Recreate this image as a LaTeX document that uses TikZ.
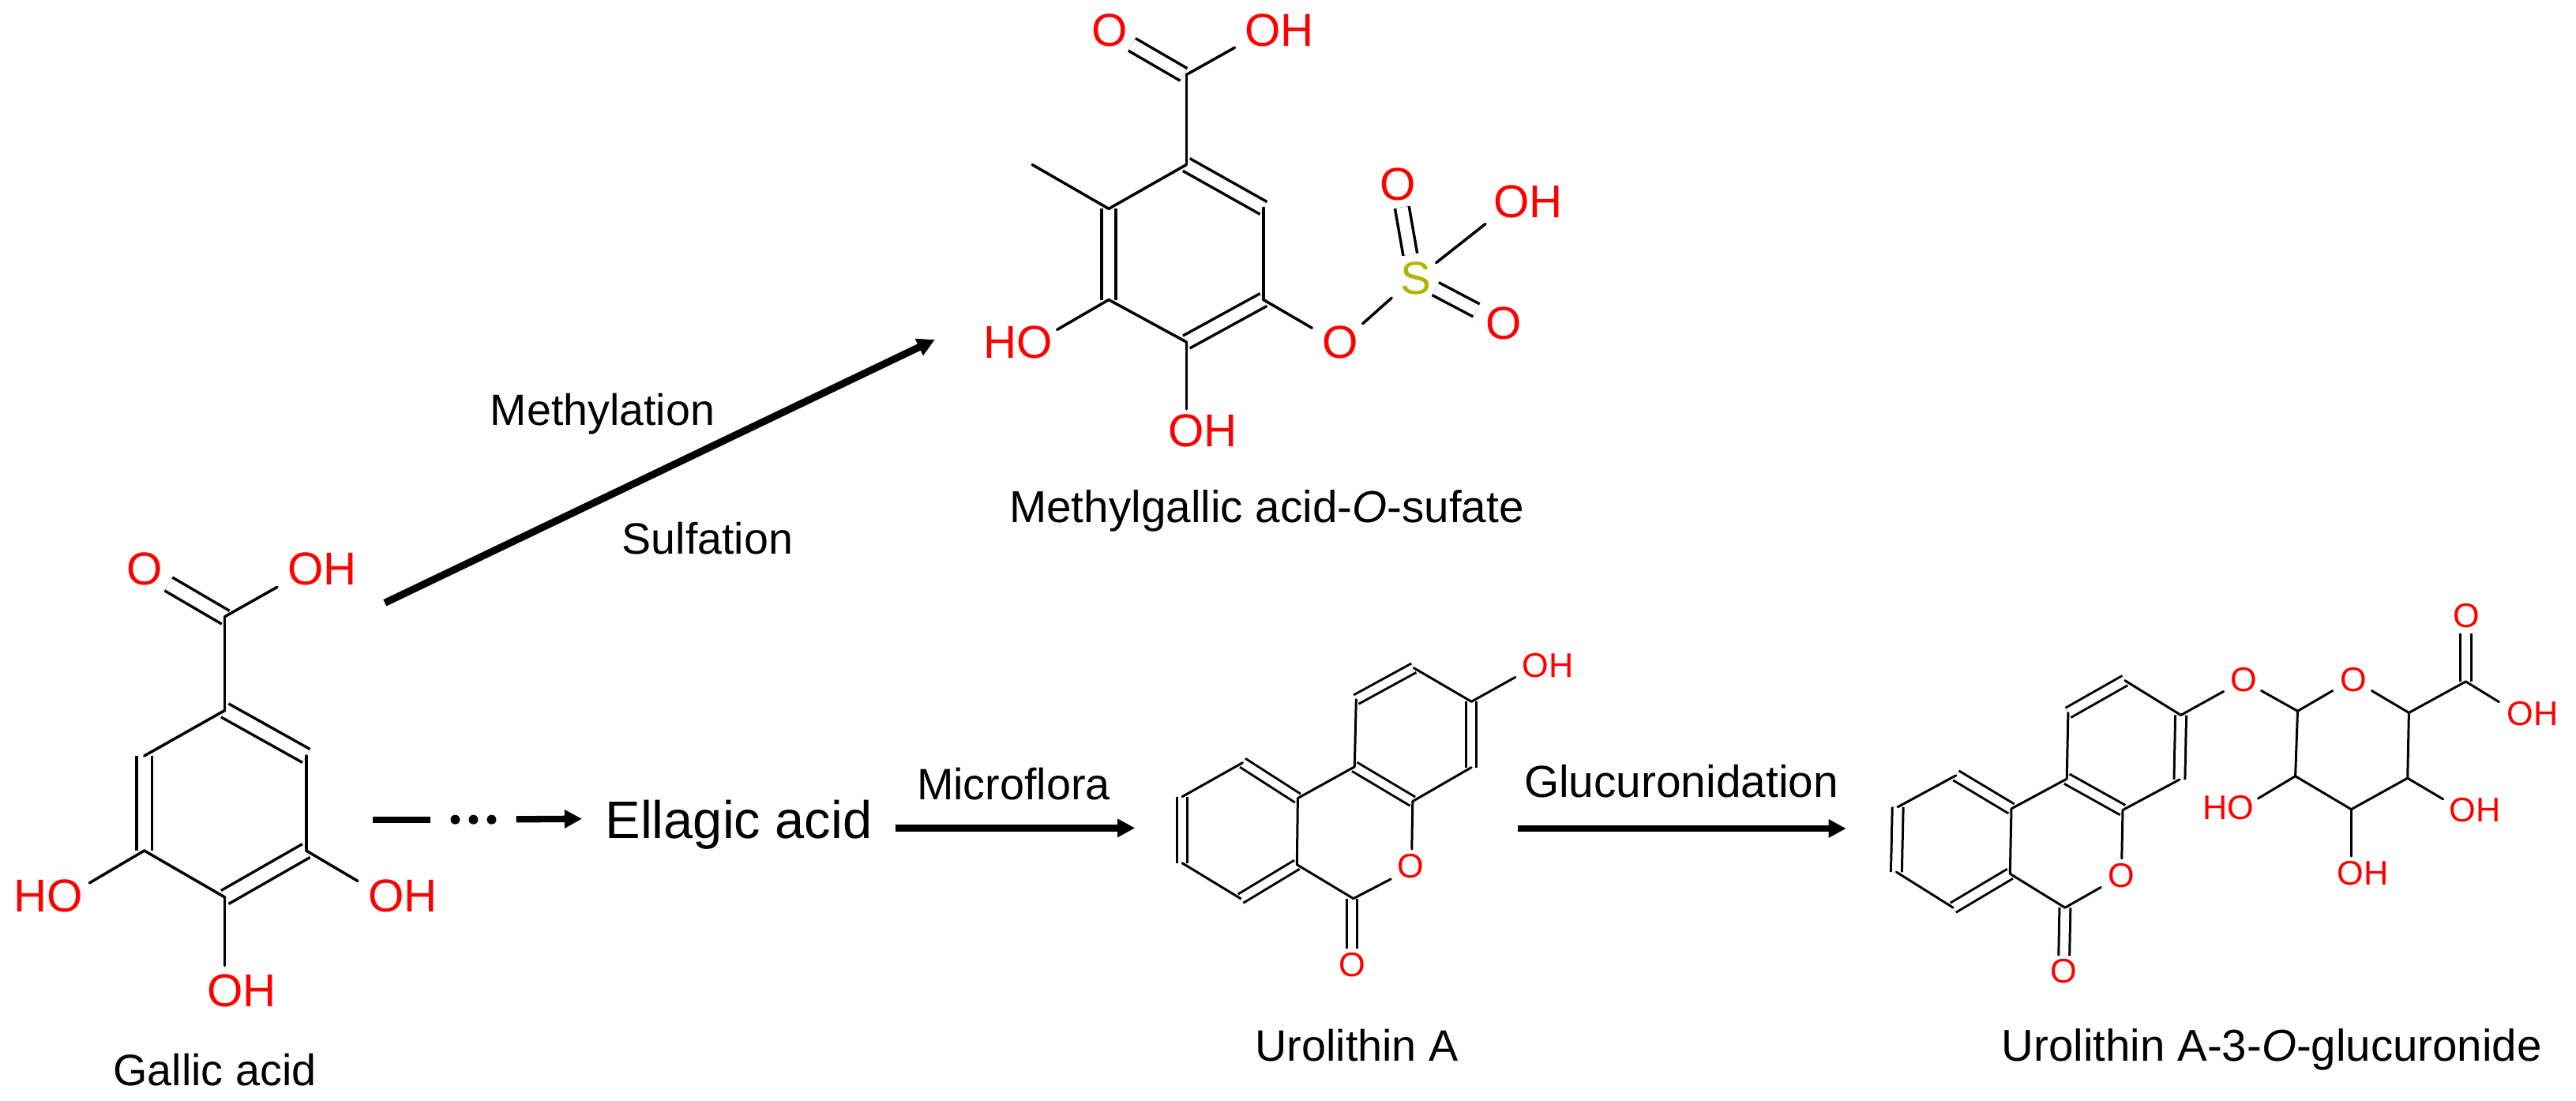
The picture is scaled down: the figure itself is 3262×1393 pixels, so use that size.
\documentclass[tikz,border=0pt]{standalone}
\usepackage{fontspec}
\setmainfont{Liberation Sans}
\usetikzlibrary{arrows.meta}
\definecolor{sulfur}{RGB}{180,180,0}
\tikzset{
  bond/.style={line width=1pt,line cap=round},
  thinbond/.style={line width=.85pt,line cap=round},
  dbl/.style={line width=1pt,double=white,double distance=#1},
  thindbl/.style={line width=.85pt,double=white,double distance=#1},
  atom/.style={text=red,inner sep=0pt,font=\fontsize{16.6}{19}\selectfont},
  smallatom/.style={text=red,inner sep=0pt,font=\fontsize{12.3}{14}\selectfont},
  lab/.style={anchor=base,inner sep=0pt,font=\fontsize{#1}{20}\selectfont},
  flow/.style={line width=2.36pt},
  flowhead/.style={flow,-{Triangle[length=6.3pt,width=6.3pt]}},
  dotnode/.style={minimum width=107pt*.2845,minimum height=4pt,inner sep=0pt},
  dotmark/.style={circle,fill,inner sep=0pt,minimum size=3.4pt}
}

\begin{document}
\begin{tikzpicture}[x=.01cm,y=-.01cm]
\useasboundingbox (0,0) rectangle (3262,1393);

\coordinate (g1) at (284.7,899.4); \coordinate (g2) at (387.8,957); \coordinate (g3) at (387.8,1077);
\coordinate (g4) at (284.7,1136); \coordinate (g5) at (182.7,1077); \coordinate (g6) at (182.7,957);
\coordinate (g7) at (284.7,780.7); \coordinate (g7a) at (285.7,781.7); \coordinate (gco) at (213.3,739.4);
\coordinate (goh) at (351,743.3); \coordinate (gho) at (113.3,1117.9); \coordinate (goh2) at (453,1115.5);
\coordinate (goh3) at (284.7,1222.6);
\draw[dbl=4.5pt] (g1) -- (g2);
\draw[dbl=4.5pt] (g3) -- (g4);
\draw[dbl=4.5pt] (g5) -- (g6);
\draw[dbl=4.5pt] (g7a) -- (gco);
\draw[bond] (g2) -- (g3);
\draw[bond] (g4) -- (g5);
\draw[bond] (g6) -- (g1);
\draw[bond] (g1) -- (g7);
\draw[bond] (g7) -- (goh);
\draw[bond] (g5) -- (gho);
\draw[bond] (g3) -- (goh2);
\draw[bond] (g4) -- (goh3);
\node[atom] (gOa) at (183.7,720.7) {O};
\node[atom] (gOb) at (408,720.7) {OH};
\node[atom] (gOc) at (61,1134.7) {HO};
\node[atom] (gOd) at (510,1134.7) {OH};
\node[atom] (gOe) at (306,1254.8) {OH};
\node[lab=15.85] (gname) at (272,1374) {Gallic acid};

\coordinate (m1) at (1502.3,208.5); \coordinate (m2) at (1600,263.4); \coordinate (m3) at (1600,379.5);
\coordinate (m4) at (1502.3,433); \coordinate (m5) at (1404,379.5); \coordinate (m6) at (1404,264.3);
\coordinate (m7) at (1502.3,94.6); \coordinate (m7a) at (1499,94.4); \coordinate (mco) at (1433.3,56.3);
\coordinate (moh) at (1563.5,60.3); \coordinate (mme) at (1307.2,208.5); \coordinate (mho) at (1338.6,417.4);
\coordinate (moh2) at (1502.3,517.9); \coordinate (mo) at (1661.3,415.2); \coordinate (ms1) at (1725.6,409.8);
\coordinate (ms2) at (1762.2,377.2); \coordinate (ms3) at (1775.3,262.5); \coordinate (ms4) at (1785.8,322.3);
\coordinate (ms5) at (1818.7,332.6); \coordinate (ms6) at (1881,283.5); \coordinate (ms7) at (1817.7,365.6);
\coordinate (ms8) at (1869.5,392.9);
\draw[dbl=4.1pt] (m1) -- (m2);
\draw[dbl=4.1pt] (m3) -- (m4);
\draw[dbl=4.1pt] (m5) -- (m6);
\draw[dbl=4.1pt] (m7a) -- (mco);
\draw[dbl=4.1pt] (ms3) -- (ms4);
\draw[dbl=4.1pt] (ms7) -- (ms8);
\draw[bond] (m2) -- (m3);
\draw[bond] (m4) -- (m5);
\draw[bond] (m6) -- (m1);
\draw[bond] (m1) -- (m7);
\draw[bond] (m7) -- (moh);
\draw[bond] (m6) -- (mme);
\draw[bond] (m5) -- (mho);
\draw[bond] (m4) -- (moh2);
\draw[bond] (m3) -- (mo);
\draw[bond] (ms1) -- (ms2);
\draw[bond] (ms5) -- (ms6);
\node[atom] (mOa) at (1405,38) {O};
\node[atom] (mOb) at (1620,38) {OH};
\node[atom] (mOc) at (1289,433) {HO};
\node[atom] (mOd) at (1523,545.5) {OH};
\node[atom] (mOe) at (1696.9,433) {O};
\node[atom,text=sulfur] (mS) at (1792.6,352.7) {S};
\node[atom] (mOf) at (1770,233) {O};
\node[atom] (mOg) at (1934.8,255.4) {OH};
\node[atom] (mOh) at (1904.5,409.4) {O};
\node[lab=16.1] (mname) at (1604,661.6) {Methylgallic acid-\textit{O}-sufate};

\coordinate (a1) at (1863.3,888.3); \coordinate (a2) at (1790.3,845.7); \coordinate (a3) at (1717.3,885.6);
\coordinate (a4) at (1715.3,970.8); \coordinate (a5) at (1788.8,1014.6); \coordinate (a6) at (1863.3,971.6);
\coordinate (b1) at (1643.4,1010.6); \coordinate (b2) at (1573.5,965.7); \coordinate (b3) at (1497,1008.7);
\coordinate (b4) at (1497,1092.7); \coordinate (b5) at (1571,1137.7); \coordinate (b6) at (1642.3,1094.7);
\coordinate (c7) at (1713.8,1137.7); \coordinate (c7a) at (1712,1137.7); \coordinate (c8) at (1712,1201.4);
\coordinate (ao1) at (1787.8,1075); \coordinate (ao2) at (1761.2,1113); \coordinate (aoh) at (1918.9,857.4);
\draw[thindbl=2.8pt] (a1) -- (a6);
\draw[thindbl=2.8pt] (a2) -- (a3);
\draw[thindbl=2.8pt] (a4) -- (a5);
\draw[thindbl=2.8pt] (b1) -- (b2);
\draw[thindbl=2.8pt] (b3) -- (b4);
\draw[thindbl=2.8pt] (b5) -- (b6);
\draw[thindbl=2.8pt] (c7a) -- (c8);
\draw[thinbond] (a1) -- (a2);
\draw[thinbond] (a3) -- (a4);
\draw[thinbond] (a5) -- (a6);
\draw[thinbond] (a4) -- (b1);
\draw[thinbond] (b1) -- (b6);
\draw[thinbond] (b2) -- (b3);
\draw[thinbond] (b4) -- (b5);
\draw[thinbond] (b6) -- (c7);
\draw[thinbond] (c7) -- (ao2);
\draw[thinbond] (a5) -- (ao1);
\draw[thinbond] (a1) -- (aoh);
\node[smallatom] (aOa) at (1960.2,842.5) {OH};
\node[smallatom] (aOb) at (1786.7,1096.7) {O};
\node[smallatom] (aOc) at (1712,1221.8) {O};
\node[lab=15.85] (aname) at (1718,1343) {Urolithin A};

\coordinate (d1) at (2761.6,905.4); \coordinate (d2) at (2690.8,861.6); \coordinate (d3) at (2618.9,902.4);
\coordinate (d4) at (2617.2,986.1); \coordinate (d5) at (2688,1025.6); \coordinate (d6) at (2759.9,987);
\coordinate (e1) at (2547,1023.9); \coordinate (e2) at (2476.8,981.8); \coordinate (e3) at (2403.2,1021.7);
\coordinate (e4) at (2401.4,1104.1); \coordinate (e5) at (2473.3,1149.2); \coordinate (e6) at (2545.3,1106.3);
\coordinate (e7) at (2614.9,1149.2); \coordinate (e8) at (2613.7,1210.1); \coordinate (do1) at (2686.8,1087);
\coordinate (do2) at (2660.3,1123.4); \coordinate (do3) at (2815.7,875.4); \coordinate (do4) at (2863.4,874.5);
\coordinate (f1) at (2909.5,900.3); \coordinate (f2) at (3050.4,902.4); \coordinate (f3) at (3048.7,985.2);
\coordinate (f4) at (2977.4,1024.7); \coordinate (f5) at (2906.6,982.7); \coordinate (fo1) at (2953.8,874.5);
\coordinate (fo2) at (3003.3,874.5); \coordinate (f6) at (3122.4,862.9); \coordinate (f7) at (3122.4,801.5);
\coordinate (foh) at (3164.4,888.7); \coordinate (fho) at (2859.4,1011); \coordinate (foh2) at (3093.6,1011.8);
\coordinate (foh3) at (2977.4,1084);
\draw[thindbl=3.1pt] (d1) -- (d6);
\draw[thindbl=3.1pt] (d2) -- (d3);
\draw[thindbl=3.1pt] (d4) -- (d5);
\draw[thindbl=3.1pt] (e1) -- (e2);
\draw[thindbl=3.1pt] (e3) -- (e4);
\draw[thindbl=3.1pt] (e5) -- (e6);
\draw[thindbl=3.1pt] (e7) -- (e8);
\draw[thindbl=3.1pt] (f6) -- (f7);
\draw[thinbond] (d1) -- (d2);
\draw[thinbond] (d3) -- (d4);
\draw[thinbond] (d5) -- (d6);
\draw[thinbond] (d4) -- (e1);
\draw[thinbond] (e1) -- (e6);
\draw[thinbond] (e2) -- (e3);
\draw[thinbond] (e4) -- (e5);
\draw[thinbond] (e6) -- (e7);
\draw[thinbond] (e7) -- (do2);
\draw[thinbond] (d5) -- (do1);
\draw[thinbond] (d1) -- (do3);
\draw[thinbond] (do4) -- (f1);
\draw[thinbond] (f1) -- (fo1);
\draw[thinbond] (fo2) -- (f2);
\draw[thinbond] (f2) -- (f3);
\draw[thinbond] (f3) -- (f4);
\draw[thinbond] (f4) -- (f5);
\draw[thinbond] (f5) -- (f1);
\draw[thinbond] (f2) -- (f6);
\draw[thinbond] (f6) -- (foh);
\draw[thinbond] (f5) -- (fho);
\draw[thinbond] (f3) -- (foh2);
\draw[thinbond] (f4) -- (foh3);
\node[smallatom] (dOa) at (2686.8,1108.4) {O};
\node[smallatom] (dOb) at (2613.7,1229.9) {O};
\node[smallatom] (fOa) at (2841,860.8) {O};
\node[smallatom] (fOb) at (2980.3,860.8) {O};
\node[smallatom] (fOc) at (3123,779.2) {O};
\node[smallatom] (fOd) at (3207,903.7) {OH};
\node[smallatom] (fOe) at (2822,1022.6) {HO};
\node[smallatom] (fOf) at (3134.4,1025.6) {OH};
\node[smallatom] (fOg) at (2991.8,1105.4) {OH};
\node[lab=16.05] (dname) at (2876.7,1343) {Urolithin A-3-\textit{O}-glucuronide};

\node[lab=15.8] (methyl) at (763,538.3) {Methylation};
\node[lab=15.8] (sulf) at (896,701.7) {Sulfation};
\node[lab=19] (ellagic) at (935.5,1061.7) {Ellagic acid};
\node[lab=15.85] (micro) at (1283.5,1012.3) {Microflora};
\node[lab=16.15] (gluc) at (2129,1009.3) {Glucuronidation};
\node[dotnode] (dots) at (599.5,1037.7) {};
\node[dotmark] (dotl) at (576.5,1037.7) {};
\node[dotmark] (dotm) at (599.5,1037.7) {};
\node[dotmark] (dotr) at (622.5,1037.7) {};

\coordinate (s1) at (487.3,763.3); \coordinate (t1) at (1183.8,430);
\coordinate (s2) at (472,1037.7); \coordinate (t2) at (737,1036.7);
\coordinate (s3) at (1133.9,1048.4); \coordinate (t3) at (1437.3,1048.4);
\coordinate (s4) at (1921.7,1049); \coordinate (t4) at (2337.7,1049);
\draw[flowhead,line width=2.6pt] (s1) -- (t1);
\draw[flow] (s2) -- (dots);
\draw[flowhead] (dots) -- (t2);
\draw[flowhead] (s3) -- (t3);
\draw[flowhead] (s4) -- (t4);
\end{tikzpicture}
\end{document}
